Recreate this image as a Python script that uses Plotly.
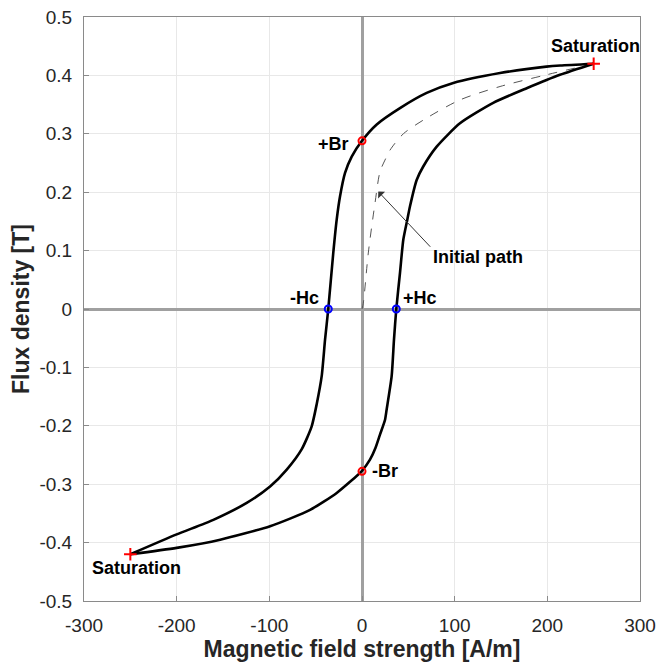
import plotly.graph_objects as go

# Descending (upper) branch: from +saturation to -saturation
upper_H = [250, 214, 199, 149, 98.5, 69.8, 41, 15.9, 0, -11.1, -18.3, -23.7, -27.3, -31, -36.4,
           -39.9, -43.5, -48.9, -54.3, -65, -81.2, -99.2, -124.4, -160.4, -200, -250]
upper_B = [0.420, 0.417, 0.415, 0.404, 0.387, 0.370, 0.344, 0.316, 0.288, 0.261, 0.233, 0.193, 0.153, 0.096, 0.0,
           -0.053, -0.115, -0.163, -0.201, -0.240, -0.275, -0.304, -0.332, -0.361, -0.386, -0.420]

# Ascending (lower) branch: from -saturation to +saturation
lower_H = [-250, -200, -153, -99.2, -56, -27.3, 0, 8.6, 14.5, 19.4, 24.8, 26.6, 32, 34.5, 37,
           41, 44.6, 48.9, 51.8, 59, 66.1, 80.6, 105.7, 141.6, 177.7, 213.6, 250]
lower_B = [-0.420, -0.409, -0.395, -0.372, -0.344, -0.315, -0.277, -0.258, -0.238, -0.215, -0.190, -0.172, -0.115, -0.053, 0.0,
           0.062, 0.119, 0.153, 0.176, 0.221, 0.244, 0.278, 0.318, 0.353, 0.378, 0.401, 0.420]

# Initial magnetization path
init_H = [0, 1.4, 6.8, 14, 19.4, 24.8, 30.2, 44.6, 69.8, 105.7, 149, 199, 250]
init_B = [0, 0.01, 0.096, 0.181, 0.235, 0.255, 0.272, 0.300, 0.327, 0.358, 0.381, 0.401, 0.420]

# Key points
sat_H = [250, -250]
sat_B = [0.42, -0.42]
br_H = [0, 0]
br_B = [0.288, -0.278]
hc_H = [-36.4, 37]
hc_B = [0, 0]

# Labels
label_text = ["Saturation", "Saturation", "+Br", "-Br", "-Hc", "+Hc", "Initial path"]
label_H = [252, -243, -31, 24.8, -62, 62.6, 125]
label_B = [0.451, -0.443, 0.283, -0.278, 0.018, 0.019, 0.089]

# Arrow for initial path (tip, tail)
arrow_tip = (17.6, 0.201)
arrow_tail = (75.2, 0.104)

x_ticks = [-300, -200, -100, 0, 100, 200, 300]
x_ticktext = ["-300", "-200", "-100", "0", "100", "200", "300"]
y_ticks = [-0.5, -0.4, -0.3, -0.2, -0.1, 0, 0.1, 0.2, 0.3, 0.4, 0.5]
y_ticktext = ["-0.5", "-0.4", "-0.3", "-0.2", "-0.1", "0", "0.1", "0.2", "0.3", "0.4", "0.5"]

FONT = "Liberation Sans, Arial, Helvetica, sans-serif"

fig = go.Figure()

fig.add_trace(go.Scatter(x=init_H, y=init_B, mode="lines",
                         line=dict(color="#555555", width=1, dash="dash", shape="spline", smoothing=0.8),
                         showlegend=False, hoverinfo="skip"))
fig.add_trace(go.Scatter(x=upper_H, y=upper_B, mode="lines",
                         line=dict(color="black", width=2.6, shape="spline", smoothing=0.6),
                         showlegend=False))
fig.add_trace(go.Scatter(x=lower_H, y=lower_B, mode="lines",
                         line=dict(color="black", width=2.6, shape="spline", smoothing=0.6),
                         showlegend=False))
fig.add_trace(go.Scatter(x=sat_H, y=sat_B, mode="markers",
                         marker=dict(symbol="cross-thin", size=9, line=dict(color="red", width=2)),
                         showlegend=False))
fig.add_trace(go.Scatter(x=br_H, y=br_B, mode="markers",
                         marker=dict(symbol="circle-open", size=7, color="red", line=dict(color="red", width=2)),
                         showlegend=False))
fig.add_trace(go.Scatter(x=hc_H, y=hc_B, mode="markers",
                         marker=dict(symbol="circle-open", size=7, color="blue", line=dict(color="blue", width=2)),
                         showlegend=False))

annotations = []
for t, hx, by in zip(label_text, label_H, label_B):
    annotations.append(dict(x=hx, y=by, xref="x", yref="y", text="<b>%s</b>" % t, showarrow=False,
                            font=dict(family=FONT, size=18, color="#000000"),
                            xanchor="center", yanchor="middle"))
annotations.append(dict(x=arrow_tip[0], y=arrow_tip[1], ax=arrow_tail[0], ay=arrow_tail[1],
                        xref="x", yref="y", axref="x", ayref="y", text="", showarrow=True,
                        arrowhead=1, arrowsize=1.6, arrowwidth=1, arrowcolor="#333333"))

axis_common = dict(showgrid=True, gridcolor="#e8e8e8", gridwidth=1,
                   zeroline=True, zerolinecolor="#a0a0a0", zerolinewidth=3,
                   showline=True, linecolor="#8a8a8a", linewidth=1, mirror=True,
                   ticks="inside", ticklen=5, tickcolor="#8a8a8a", automargin=False,
                   ticklabeloverflow="allow",
                   tickfont=dict(family=FONT, size=19, color="#262626"))

fig.update_layout(
    width=657, height=667,
    margin=dict(l=84, r=17, t=17, b=66),
    paper_bgcolor="white", plot_bgcolor="white",
    annotations=annotations,
    xaxis=dict(range=[-300, 300], tickvals=x_ticks, ticktext=x_ticktext, ticklabelstandoff=7,
               title=dict(text="<b>Magnetic field strength [A/m]</b>", standoff=4,
                          font=dict(family=FONT, size=23, color="#262626")),
               **axis_common),
    yaxis=dict(range=[-0.5, 0.5], tickvals=y_ticks, ticktext=y_ticktext, ticklabelstandoff=7,
               title=dict(text="<b>Flux density [T]</b>", standoff=3,
                          font=dict(family=FONT, size=23, color="#262626")),
               **axis_common),
)

# Remove the default page margin so the figure fills the window exactly.
fig.write_html("out.html", config={"displayModeBar": False},
               post_script="document.body.style.margin='0';document.body.style.overflow='hidden';")
